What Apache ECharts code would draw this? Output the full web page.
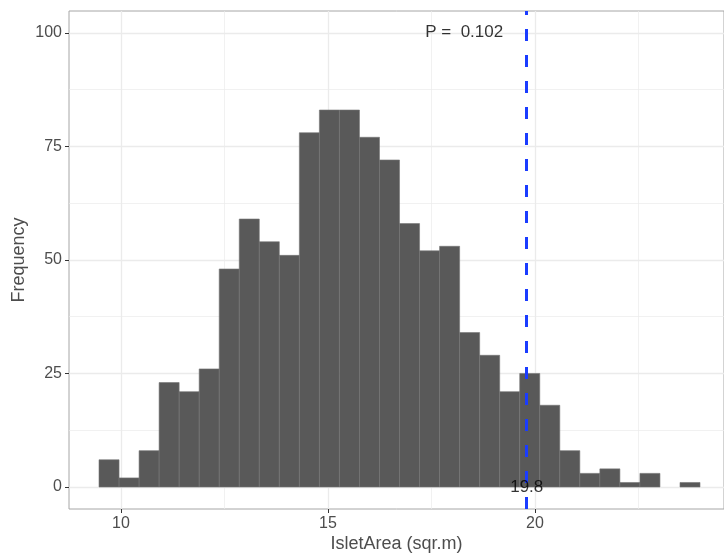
<!DOCTYPE html>
<html>
<head>
<meta charset="utf-8">
<script src="https://cdn.jsdelivr.net/npm/echarts@6/dist/echarts.min.js"></script>
<style>
  html, body { margin: 0; padding: 0; background: #fff; }
  #chart { width: 724px; height: 554px; }
</style>
</head>
<body>
<div id="chart"></div>
<script>
// histogram: 30 bins starting at binStart
var binStart = 9.469;
var binWidth = 0.4839;
var counts = [6, 2, 8, 23, 21, 26, 48, 59, 54, 51, 78, 83, 83, 77, 72, 58, 52, 53, 34, 29, 21, 25, 18, 8, 3, 4, 1, 3, 0, 1];

var xTicks = [10, 15, 20];
var xMinor = [12.5, 17.5, 22.5];
var yTicks = [0, 25, 50, 75, 100];
var yMinor = [12.5, 37.5, 62.5, 87.5];

var cutoff = 19.8;
var annotations = [[18.29, 100, "P =  0.102"], [19.8, 0, "19.8"]];

var font = "Liberation Sans, Arial, Helvetica, sans-serif";

var bins = counts.map(function (c, i) {
  return [binStart + i * binWidth, binStart + (i + 1) * binWidth, c];
});

function gridLines(axisKey, vals, width) {
  return vals.map(function (v) {
    var d = {};
    d[axisKey] = v;
    d.lineStyle = { color: "#ebebeb", width: width, type: "solid" };
    return d;
  });
}

var chart = echarts.init(document.getElementById("chart"));

chart.setOption({
  backgroundColor: "#fff",
  animation: false,
  grid: {
    left: 69,
    right: 0,
    top: 11,
    bottom: 45,
    outerBoundsMode: "none",
    containLabel: false,
    show: true,
    borderColor: "#a6a6a6",
    borderWidth: 1,
    backgroundColor: "transparent"
  },
  xAxis: {
    type: "value",
    min: 8.744,
    max: 24.565,
    name: "IsletArea (sqr.m)",
    nameLocation: "middle",
    nameGap: 26,
    nameMoveOverlap: false,
    nameTextStyle: { color: "#4d4d4d", fontSize: 18, fontFamily: font },
    axisLine: { show: false, onZero: false },
    axisTick: { show: true, customValues: xTicks, length: 4, lineStyle: { color: "#333" } },
    axisLabel: { customValues: xTicks, color: "#4d4d4d", fontSize: 16, fontFamily: font, margin: 7 },
    splitLine: { show: false }
  },
  yAxis: {
    type: "value",
    min: -4.84,
    max: 104.8,
    name: "Frequency",
    nameLocation: "middle",
    nameGap: 41,
    nameMoveOverlap: false,
    nameRotate: 90,
    nameTextStyle: { color: "#4d4d4d", fontSize: 18, fontFamily: font },
    axisLine: { show: false, onZero: false },
    axisTick: { show: true, customValues: yTicks, length: 4, lineStyle: { color: "#333" } },
    axisLabel: { customValues: yTicks, color: "#4d4d4d", fontSize: 16, fontFamily: font, margin: 7 },
    splitLine: { show: false }
  },
  series: [
    {
      // panel grid lines
      type: "line",
      data: [],
      silent: true,
      z: 0,
      markLine: {
        z: 0,
        silent: true,
        symbol: "none",
        label: { show: false },
        animation: false,
        data: gridLines("xAxis", xMinor, 0.7)
          .concat(gridLines("yAxis", yMinor, 0.7))
          .concat(gridLines("xAxis", xTicks, 1.3))
          .concat(gridLines("yAxis", yTicks, 1.3))
      }
    },
    {
      type: "custom",
      z: 2,
      data: bins,
      renderItem: function (params, api) {
        if (!api.value(2)) return null;
        var p0 = api.coord([api.value(0), 0]);
        var p1 = api.coord([api.value(1), api.value(2)]);
        return {
          type: "rect",
          shape: { x: p0[0], y: p1[1], width: p1[0] - p0[0], height: p0[1] - p1[1] },
          style: { fill: "#595959", stroke: "#767676", lineWidth: 0.6 }
        };
      }
    },
    {
      type: "line",
      data: [],
      z: 3,
      markLine: {
        z: 3,
        silent: true,
        symbol: "none",
        label: { show: false },
        animation: false,
        data: [{ xAxis: cutoff }],
        lineStyle: { color: "#1a3cff", width: 3, type: [12, 14] }
      }
    },
    {
      type: "scatter",
      z: 6,
      symbolSize: 0,
      data: annotations,
      label: {
        show: true,
        position: "inside",
        formatter: function (p) { return p.value[2]; },
        color: "#000",
        fontSize: 17,
        fontFamily: font
      }
    }
  ]
});
</script>
</body>
</html>
